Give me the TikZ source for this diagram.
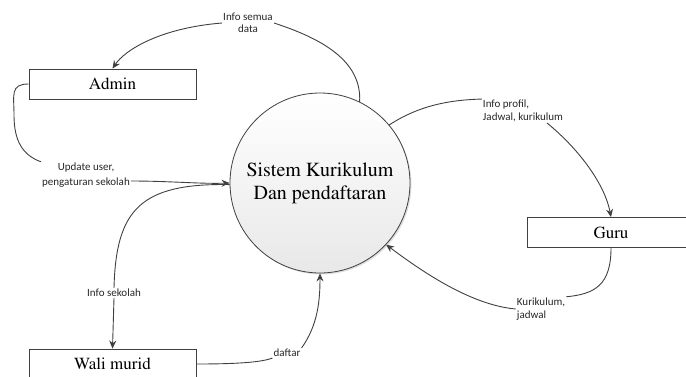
\documentclass[tikz,border=0pt]{standalone}
\usepackage[T1]{fontenc}
\usepackage{fontspec}
\newfontfamily\labfont{Carlito}
\newcommand{\serfont}{\fontencoding{T1}\fontfamily{ptm}\selectfont}
\usetikzlibrary{arrows.meta,shadows}
\definecolor{ln}{HTML}{404040}
\begin{document}
\begin{tikzpicture}[x=1pt,y=-1pt,
  flow/.style={draw=ln, line width=0.9pt},
  arr/.style={flow,-{Stealth[length=8pt,width=7pt]}},
  lbl/.style={font=\labfont\fontsize{11}{12.5}\selectfont, text=black!85, inner sep=1pt, align=left},
  ent/.style={draw=ln, line width=0.8pt, minimum width=167pt, minimum height=30pt, font=\serfont\fontsize{17}{20}\selectfont},
  proc/.style={circle, draw=ln, line width=0.8pt, minimum size=180pt, top color=white, bottom color=gray!18,
    drop shadow={shadow xshift=1.5pt, shadow yshift=-1.5pt, opacity=0.25, fill=gray},
    align=center, font=\serfont\fontsize{20}{23}\selectfont}]
\useasboundingbox (0,0) rectangle (686,376);
\node[ent] (admin) at (112.5,84) {Admin};
\node[ent] (wali) at (112.5,364) {Wali murid};
\node[ent] (guru) at (611,232.5) {Guru};
\node[proc] (C) at (320,183) {Sistem Kurikulum\\Dan pendaftaran};

\node[lbl, align=center] (l1) at (248,23) {Info semua\\data};
\node[lbl, align=center] (l2) at (86,175) {Update user,\\[2pt]pengaturan sekolah};
\node[lbl] (l3) at (114,293) {Info sekolah};
\node[lbl] (l4) at (287,353) {daftar};
\node[lbl] (l5) at (523,111) {Info profil,\\Jadwal, kurikulum};
\node[lbl] (l6) at (541,309) {Kurikulum,\\jadwal};

\draw[flow] (C.64) .. controls (362,60) and (320,38) .. (l1.east);
\draw[arr] (l1.west) .. controls (160,28) and (125,50) .. (admin.north);

\draw[flow] (admin.west) .. controls (10,84) and (14,95) .. (14,115) .. controls (14,140) and (22,155) .. (l2.north west);
\draw[arr] ([yshift=-6pt]l2.east) .. controls (170,181) and (200,184) .. (C.180);

\draw[flow] (C.181) .. controls (140,183) and (116,210) .. (l3.north);
\draw[arr] (l3.south) -- (wali.north);

\draw[flow] (wali.east) .. controls (240,364) and (262,362) .. (l4.south west);
\draw[arr] (l4.north east) .. controls (318,325) and (320,300) .. (C.south);

\draw[flow] (C.40) .. controls (420,105) and (450,100) .. (l5.north west);
\draw[arr] ([xshift=24pt]l5.south) .. controls (580,150) and (605,185) .. (guru.north);

\draw[flow] (guru.south) .. controls (611,285) and (595,294) .. (l6.north east);
\draw[arr] (l6.west) .. controls (470,305) and (420,270) .. (C.-43);
\end{tikzpicture}
\end{document}
